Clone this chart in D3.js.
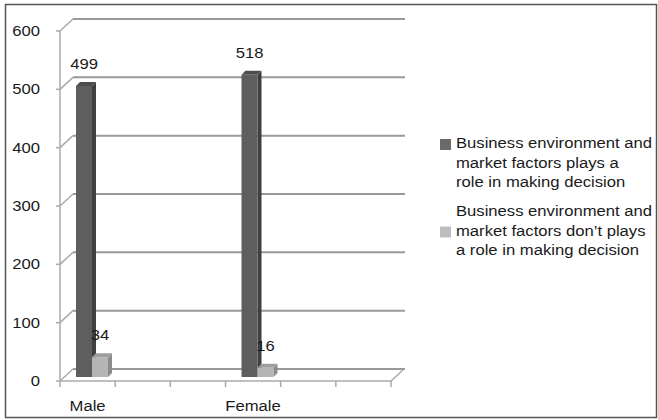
<!DOCTYPE html>
<html>
<head>
<meta charset="utf-8">
<script src="https://cdn.jsdelivr.net/npm/d3@7"></script>
<style>
  body { margin: 0; background: #fff; }
  text { font-family: "Liberation Sans", Arial, sans-serif; font-size: 15px; fill: #1a1a1a; }
</style>
</head>
<body>
<svg id="chart" width="658" height="420"></svg>
<script>
// data
const categories = ["Male", "", "", "Female", "", ""]
const plays = [499, null, null, 518, null, null]
const dontPlay = [34, null, null, 16, null, null]
const yTicks = [0, 100, 200, 300, 400, 500, 600]
const legendLabels = [
    ["Business environment and", "market factors plays a", "role in making decision"],
    ["Business environment and", "market factors don\u2019t plays", "a role in making decision"]
]

const svg = d3.select("#chart")

// text in the original is a little stretched sideways
function label(px, py, str, anchor) {
    return svg.append("text")
        .attr("transform", `translate(${px},${py}) scale(1.11,1)`)
        .attr("text-anchor", anchor || "start")
        .text(str)
}

// outer frame
svg.append("rect")
    .attr("x", 5.5).attr("y", 4.5)
    .attr("width", 651).attr("height", 413)
    .attr("fill", "none").attr("stroke", "#555").attr("stroke-width", 1.5)

// scales (front plane)
const x = d3.scaleBand().domain(d3.range(categories.length)).range([60, 391])
const y = d3.scaleLinear().domain([0, 600]).range([381, 31])

// 3D offsets
const wall = { dx: 13, dy: -12 }   // back wall
const plane = { dx: 4, dy: -4 }    // where the bars stand
const barDepth = { dx: 4, dy: -4 }

// back wall gridlines
svg.selectAll(".grid")
    .data(yTicks)
    .join("line")
    .attr("x1", 60 + wall.dx).attr("x2", 405)
    .attr("y1", d => y(d) + wall.dy).attr("y2", d => y(d) + wall.dy)
    .attr("stroke", "#999").attr("stroke-width", 2)

// left wall diagonals
svg.selectAll(".diag")
    .data(yTicks)
    .join("line")
    .attr("x1", 60).attr("x2", 60 + wall.dx)
    .attr("y1", d => y(d)).attr("y2", d => y(d) + wall.dy)
    .attr("stroke", "#aaa").attr("stroke-width", 1.5)

// left axis line + ticks
svg.append("line")
    .attr("x1", 60).attr("x2", 60)
    .attr("y1", y(600)).attr("y2", y(0))
    .attr("stroke", "#aaa").attr("stroke-width", 1.5)
svg.selectAll(".ytick")
    .data(yTicks)
    .join("line")
    .attr("x1", 56).attr("x2", 60)
    .attr("y1", d => y(d)).attr("y2", d => y(d))
    .attr("stroke", "#aaa").attr("stroke-width", 1.5)
yTicks.forEach(d => label(40, y(d) + 5, d, "end"))

// floor front edge + right diagonal
const xEnd = x.range()[1]
svg.append("path")
    .attr("d", `M60,${y(0)}H${xEnd}L${xEnd + wall.dx},${y(0) + wall.dy}`)
    .attr("fill", "none").attr("stroke", "#aaa").attr("stroke-width", 1.5)

// category ticks
svg.selectAll(".xtick")
    .data(d3.range(categories.length + 1))
    .join("line")
    .attr("x1", i => 60 + i * x.step()).attr("x2", i => 60 + i * x.step())
    .attr("y1", y(0)).attr("y2", y(0) + 6)
    .attr("stroke", "#aaa").attr("stroke-width", 1.5)

categories.forEach((c, i) => {
    if (c) label(x(i) + x.bandwidth() / 2, 411, c, "middle")
})

// bars
const barW = 16
const series = [
    { values: plays, offset: 12, front: "#5e5e5e", side: "#3f3f3f", top: "#4d4d4d" },
    { values: dontPlay, offset: 12 + barW, front: "#b5b5b5", side: "#8c8c8c", top: "#9e9e9e" }
]

series.forEach(s => {
    s.values.forEach((v, i) => {
        if (v == null) return
        const x0 = x(i) + s.offset + plane.dx
        const x1 = x0 + barW
        const yTop = y(v) + plane.dy
        const yBot = y(0) + plane.dy
        const g = svg.append("g")
        // side face
        g.append("path")
            .attr("d", `M${x1},${yBot}L${x1 + barDepth.dx},${yBot + barDepth.dy}L${x1 + barDepth.dx},${yTop + barDepth.dy}L${x1},${yTop}Z`)
            .attr("fill", s.side)
        // top face
        g.append("path")
            .attr("d", `M${x0},${yTop}L${x0 + barDepth.dx},${yTop + barDepth.dy}L${x1 + barDepth.dx},${yTop + barDepth.dy}L${x1},${yTop}Z`)
            .attr("fill", s.top)
        // front face
        g.append("rect")
            .attr("x", x0).attr("y", yTop)
            .attr("width", barW).attr("height", yBot - yTop)
            .attr("fill", s.front)
    })
})
// value labels on top so the bars don't cover them
series.forEach(s => {
    s.values.forEach((v, i) => {
        if (v == null) return
        const x0 = x(i) + s.offset + plane.dx
        label(x0 + barW / 2, y(v) + plane.dy - 17, v, "middle")
    })
})

// legend
const legendColors = ["#6a6a6a", "#bdbdbd"]
const legendTop = [148, 216]
const markerLine = [0, 1]
legendLabels.forEach((lines, k) => {
    svg.append("rect")
        .attr("x", 440).attr("y", legendTop[k] + markerLine[k] * 19.5 - 9)
        .attr("width", 11).attr("height", 11)
        .attr("fill", legendColors[k])
    lines.forEach((t, j) => label(456, legendTop[k] + j * 19.5, t))
})
</script>
</body>
</html>
